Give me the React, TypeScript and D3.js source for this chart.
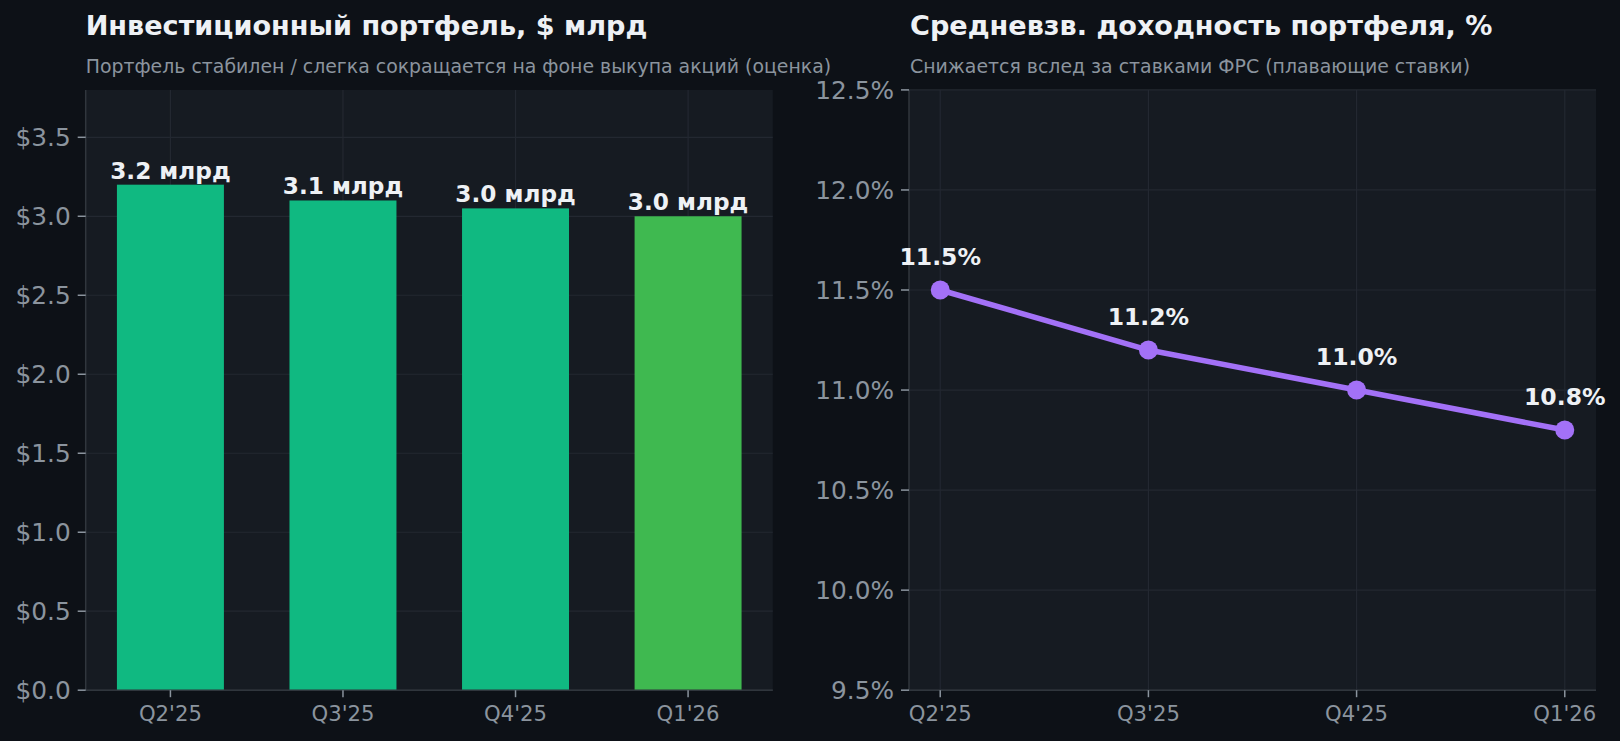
import React, { useEffect } from 'react';
import * as d3 from 'd3';

const quarters = ["Q2'25", "Q3'25", "Q4'25", "Q1'26"];
const portfolio = [3.2, 3.1, 3.05, 3.0];
const portfolioLabels = ['3.2 млрд', '3.1 млрд', '3.0 млрд', '3.0 млрд'];
const barColors = ['#10b981', '#10b981', '#10b981', '#3fb950'];
const portfolioTicks = [0, 0.5, 1, 1.5, 2, 2.5, 3, 3.5];
const yieldPct = [11.5, 11.2, 11.0, 10.8];
const yieldTicks = [9.5, 10, 10.5, 11, 11.5, 12, 12.5];

const leftTitle = 'Инвестиционный портфель, $ млрд';
const leftSub = 'Портфель стабилен / слегка сокращается на фоне выкупа акций (оценка)';
const rightTitle = 'Средневзв. доходность портфеля, %';
const rightSub = 'Снижается вслед за ставками ФРС (плавающие ставки)';

const W = 1620;
const H = 741;
const FONT = '"DejaVu Sans", "Noto Sans", sans-serif';
const BG = '#0d1117';
const PANEL = '#161b22';
const GRID = '#232831';
const SPINE = '#30363d';
const TICK = '#8b949e';
const TEXT = '#eef1f5';
const PURPLE = '#a371f7';

const top = 89.9;
const bottom = 690.2;

export default function App() {
  useEffect(() => {
    document.body.style.margin = '0';
    document.body.style.background = BG;
  }, []);

  // Left panel
  const lx0 = 85.7, lx1 = 772.8;
  const xb = d3.scaleBand<string>().domain(quarters).range([lx0, lx1]).paddingInner(0.38).paddingOuter(0.181);
  const yl = d3.scaleLinear().domain([0, 3.8]).range([bottom, top]);

  // Right panel
  const rx0 = 909, rx1 = 1596;
  const xr = d3.scaleLinear().domain([-0.15, 3.15]).range([rx0, rx1]);
  const yr = d3.scaleLinear().domain([9.5, 12.5]).range([bottom, top]);
  const line = d3.line<number>().x((_, i) => xr(i)).y((d) => yr(d));

  return (
    <svg width={W} height={H} style={{ position: 'fixed', left: 0, top: 0, display: 'block', background: BG }} fontFamily={FONT}>
      <rect x={0} y={0} width={W} height={H} fill={BG} />

      {/* LEFT */}
      <text x={lx0} y={35} fill={TEXT} fontSize={27.1} fontWeight="bold">{leftTitle}</text>
      <text x={lx0} y={72.5} fill={TICK} fontSize={18.9}>{leftSub}</text>
      <rect x={lx0} y={top} width={lx1 - lx0} height={bottom - top} fill={PANEL} />
      {portfolioTicks.map((t) => (
        <line key={'lg' + t} x1={lx0} x2={lx1} y1={yl(t)} y2={yl(t)} stroke={GRID} strokeWidth={1.2} />
      ))}
      {quarters.map((q) => (
        <line key={'lv' + q} x1={xb(q)! + xb.bandwidth() / 2} x2={xb(q)! + xb.bandwidth() / 2} y1={top} y2={bottom} stroke={GRID} strokeWidth={1.2} />
      ))}
      {portfolio.map((v, i) => (
        <rect key={'b' + i} x={xb(quarters[i])!} y={yl(v)} width={xb.bandwidth()} height={yl(0) - yl(v)} fill={barColors[i]} />
      ))}
      {portfolio.map((v, i) => (
        <text key={'bl' + i} x={xb(quarters[i])! + xb.bandwidth() / 2} y={yl(v) - 6} fill={TEXT} fontSize={23.2} fontWeight="bold" textAnchor="middle">{portfolioLabels[i]}</text>
      ))}
      <line x1={lx0} x2={lx0} y1={top} y2={bottom} stroke={SPINE} strokeWidth={1.5} />
      <line x1={lx0} x2={lx1} y1={bottom} y2={bottom} stroke={SPINE} strokeWidth={1.5} />
      {portfolioTicks.map((t) => (
        <g key={'lt' + t}>
          <line x1={lx0 - 8} x2={lx0} y1={yl(t)} y2={yl(t)} stroke={TICK} strokeWidth={1.5} />
          <text x={lx0 - 15} y={yl(t)} dy="0.36em" fill={TICK} fontSize={24.8} textAnchor="end">{'$' + t.toFixed(1)}</text>
        </g>
      ))}
      {quarters.map((q) => (
        <g key={'lxt' + q}>
          <line x1={xb(q)! + xb.bandwidth() / 2} x2={xb(q)! + xb.bandwidth() / 2} y1={bottom} y2={bottom + 7} stroke={TICK} strokeWidth={1.5} />
          <text x={xb(q)! + xb.bandwidth() / 2} y={721} fill={TICK} fontSize={21.2} textAnchor="middle">{q}</text>
        </g>
      ))}

      {/* RIGHT */}
      <text x={rx0 + 1} y={35} fill={TEXT} fontSize={27.1} fontWeight="bold">{rightTitle}</text>
      <text x={rx0 + 1} y={72.5} fill={TICK} fontSize={18.9}>{rightSub}</text>
      <rect x={rx0} y={top} width={rx1 - rx0} height={bottom - top} fill={PANEL} />
      {yieldTicks.map((t) => (
        <line key={'rg' + t} x1={rx0} x2={rx1} y1={yr(t)} y2={yr(t)} stroke={GRID} strokeWidth={1.2} />
      ))}
      {quarters.map((q, i) => (
        <line key={'rv' + q} x1={xr(i)} x2={xr(i)} y1={top} y2={bottom} stroke={GRID} strokeWidth={1.2} />
      ))}
      <line x1={rx0} x2={rx0} y1={top} y2={bottom} stroke={SPINE} strokeWidth={1.5} />
      <line x1={rx0} x2={rx1} y1={bottom} y2={bottom} stroke={SPINE} strokeWidth={1.5} />
      <path d={line(yieldPct)!} fill="none" stroke={PURPLE} strokeWidth={5.5} strokeLinejoin="round" strokeLinecap="round" />
      {yieldPct.map((v, i) => (
        <circle key={'p' + i} cx={xr(i)} cy={yr(v)} r={9.5} fill={PURPLE} />
      ))}
      {yieldPct.map((v, i) => (
        <text key={'pl' + i} x={xr(i)} y={yr(v) - 25} fill={TEXT} fontSize={23.5} fontWeight="bold" textAnchor="middle">{v.toFixed(1) + '%'}</text>
      ))}
      {yieldTicks.map((t) => (
        <g key={'rt' + t}>
          <line x1={rx0 - 8} x2={rx0} y1={yr(t)} y2={yr(t)} stroke={TICK} strokeWidth={1.5} />
          <text x={rx0 - 15} y={yr(t)} dy="0.36em" fill={TICK} fontSize={24.8} textAnchor="end">{t.toFixed(1) + '%'}</text>
        </g>
      ))}
      {quarters.map((q, i) => (
        <g key={'rxt' + q}>
          <line x1={xr(i)} x2={xr(i)} y1={bottom} y2={bottom + 7} stroke={TICK} strokeWidth={1.5} />
          <text x={xr(i)} y={721} fill={TICK} fontSize={21.2} textAnchor="middle">{q}</text>
        </g>
      ))}
    </svg>
  );
}
